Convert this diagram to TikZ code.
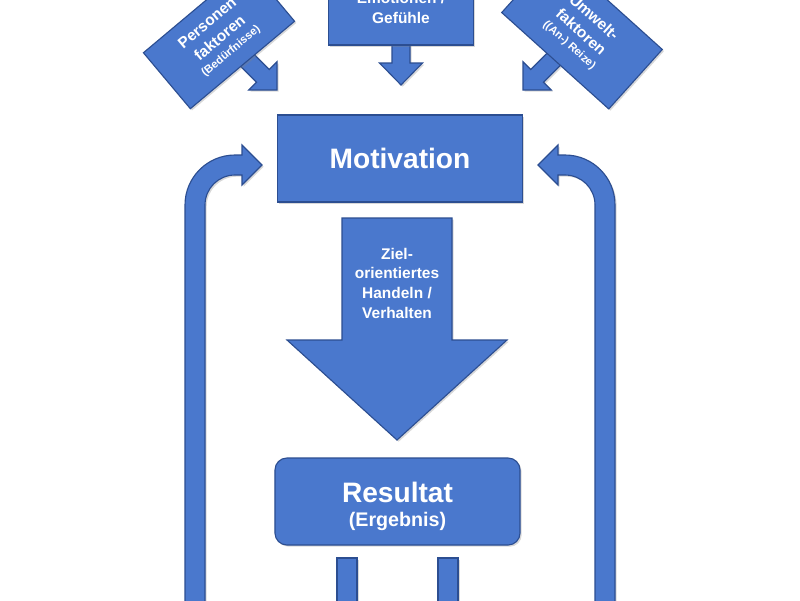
\documentclass[tikz,border=0pt]{standalone}
\usepackage{fontspec}
\setmainfont{Liberation Sans}
\usetikzlibrary{positioning, shadows}
\definecolor{boxblue}{RGB}{74,120,205}
\definecolor{boxedge}{RGB}{44,78,145}

\tikzset{
  bluebox/.style={rectangle, fill=boxblue, draw=boxedge, line width=0.8pt, text=white, align=center, inner sep=0pt, font=\bfseries\fontsize{11}{14}\selectfont,
    drop shadow={shadow xshift=1.2pt, shadow yshift=-1.2pt, opacity=0.3}},
  blockarrow/.style={fill=boxblue, draw=boxedge, line width=0.8pt,
    drop shadow={shadow xshift=1.2pt, shadow yshift=-1.2pt, opacity=0.3}},
  arrowtext/.style={text=white, align=center, font=\bfseries\fontsize{11}{14}\selectfont},
  smalltext/.style={font=\bfseries\fontsize{8}{10}\selectfont},
}

\begin{document}
\begin{tikzpicture}[x=0.025cm, y=-0.025cm]
\useasboundingbox (0,0) rectangle (800,600);
\fill[white] (0,0) rectangle (800,600);
\clip (0,0) rectangle (800,600);

% small arrows into Motivation
\begin{scope}[shift={(277,90)}, rotate=-45]
\draw[blockarrow] (0,0) -- (-20,-20) -- (-20,-9) -- (-60,-9) -- (-60,9) -- (-20,9) -- (-20,20) -- cycle;
\end{scope}
\begin{scope}[shift={(401,85)}, rotate=-90]
\draw[blockarrow] (0,0) -- (-22,-21.5) -- (-22,-9) -- (-55,-9) -- (-55,9) -- (-22,9) -- (-22,21.5) -- cycle;
\end{scope}
\begin{scope}[shift={(523,90)}, rotate=-135]
\draw[blockarrow] (0,0) -- (-20,-20) -- (-20,-9) -- (-60,-9) -- (-60,9) -- (-20,9) -- (-20,20) -- cycle;
\end{scope}

% factor boxes
\node[bluebox, rotate=40, minimum width=3.4cm, minimum height=1.825cm] (personen) at (219,37)
  {Personen\\faktoren\\[-3pt]{\fontsize{8}{10}\selectfont(Bedürfnisse)}};
\node[bluebox, minimum width=3.625cm, minimum height=1.85cm] (gefuehle) at (401,8)
  {Emotionen /\\Gefühle};
\node[bluebox, rotate=-42, minimum width=3.6cm, minimum height=2cm] (umwelt) at (582,31)
  {Umwelt-\\faktoren\\[-3pt]{\fontsize{8}{10}\selectfont((An-) Reize)}};

% Motivation
\node[bluebox, minimum width=6.125cm, minimum height=2.175cm, font=\bfseries\fontsize{20}{24}\selectfont] (motivation) at (400,158.5) {Motivation};

% Handeln arrow
\begin{scope}[shift={(397,440)}, rotate=-90]
\draw[blockarrow] (0,0) -- (-100,-110) -- (-100,-55) -- (-222,-55) -- (-222,55) -- (-100,55) -- (-100,110) -- cycle;
\end{scope}
\node[arrowtext] (handeln) at (397,283) {Ziel-\\orientiertes\\Handeln /\\Verhalten};

% Resultat
\node[bluebox, rounded corners=0.3cm, minimum width=6.125cm, minimum height=2.175cm] (resultat) at (397.5,501.5) {};
\node[text=white, font=\bfseries\fontsize{20}{24}\selectfont] (resname) at (397.5,492) {Resultat};
\node[text=white, font=\bfseries\fontsize{14}{17}\selectfont] (ergebnis) at (397.5,521) {(Ergebnis)};

% bars below Resultat
\draw[blockarrow] (337,558) rectangle (357,620);
\draw[blockarrow] (438,558) rectangle (458,620);

% feedback arrows
\path[blockarrow] (185,620) -- (185,205) arc[start angle=180, end angle=270, radius=50] -- (242,155) -- (242,145) -- (262,165) -- (242,185) -- (242,175) -- (235,175) arc[start angle=270, end angle=180, radius=30] -- (205,620) -- cycle;
\begin{scope}[shift={(800,0)}, xscale=-1]
\path[blockarrow] (185,620) -- (185,205) arc[start angle=180, end angle=270, radius=50] -- (242,155) -- (242,145) -- (262,165) -- (242,185) -- (242,175) -- (235,175) arc[start angle=270, end angle=180, radius=30] -- (205,620) -- cycle;
\end{scope}

\end{tikzpicture}
\end{document}
